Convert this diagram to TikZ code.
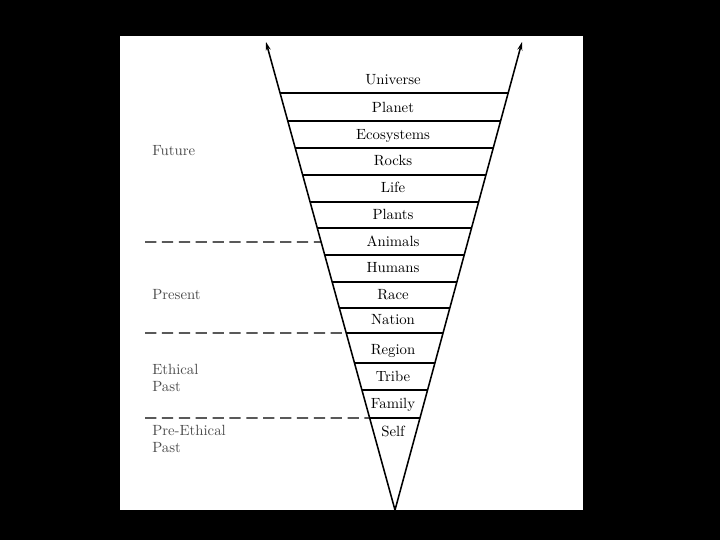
\documentclass[tikz,border=0pt]{standalone}
\usetikzlibrary{arrows.meta,calc}

\begin{document}
\begin{tikzpicture}[x=0.025cm, y=-0.025cm, >={Stealth[length=6pt,width=3.6pt]},
  side/.style={line width=1.1pt},
  rung/.style={line width=0.8pt},
  era/.style={dash pattern=on 8pt off 4pt, line width=1pt},
  level/.style={font=\fontsize{10.5}{12}\selectfont, anchor=base, inner sep=0pt},
  period/.style={font=\fontsize{10.5}{11.8}\selectfont, anchor=base west,
    align=left, text=black!70, inner sep=0pt}]
  %% ── page ──────────────────────────────────────
  \fill[black] (0,0) rectangle (720,540);
  \fill[white] (120,36) rectangle (583,510);

  %% ── the widening cone ─────────────────────────
  \coordinate (apex) at (395,510);
  \coordinate (ltip) at (266,42);
  \coordinate (rtip) at (522,42);
  \draw[side,->] (apex) -- (ltip);
  \draw[side,->] (apex) -- (rtip);

  %% rungs between the levels
  \foreach \yy in {93,121,148,175,202,228,255,282,308,333,363,390,418}
    \draw[rung] ($(apex)!{(510-\yy)/468}!(ltip)$) -- ($(apex)!{(510-\yy)/468}!(rtip)$);

  %% era boundaries
  \foreach \yy in {242,333,418}
    \draw[era] (145,\yy) -- ($(apex)!{(510-\yy)/468}!(ltip)$);

  %% level names
  \foreach \txt/\yy in {Universe/84.5, Planet/112, Ecosystems/139, Rocks/165,
      Life/192.5, Plants/219, Animals/246, Humans/272.5, Race/299, Nation/324,
      Region/354, Tribe/381, Family/408.5, Self/436.5}
    \node[level] (\txt) at (393,\yy) {\txt};

  %% eras (base = last line)
  \node[period] (future) at (152,155.5) {Future};
  \node[period] (present) at (152,299) {Present};
  \node[period] (ethical) at (152,391.5) {Ethical\\Past};
  \node[period] (preethical) at (152,452.5) {Pre-Ethical\\Past};
\end{tikzpicture}
\end{document}
